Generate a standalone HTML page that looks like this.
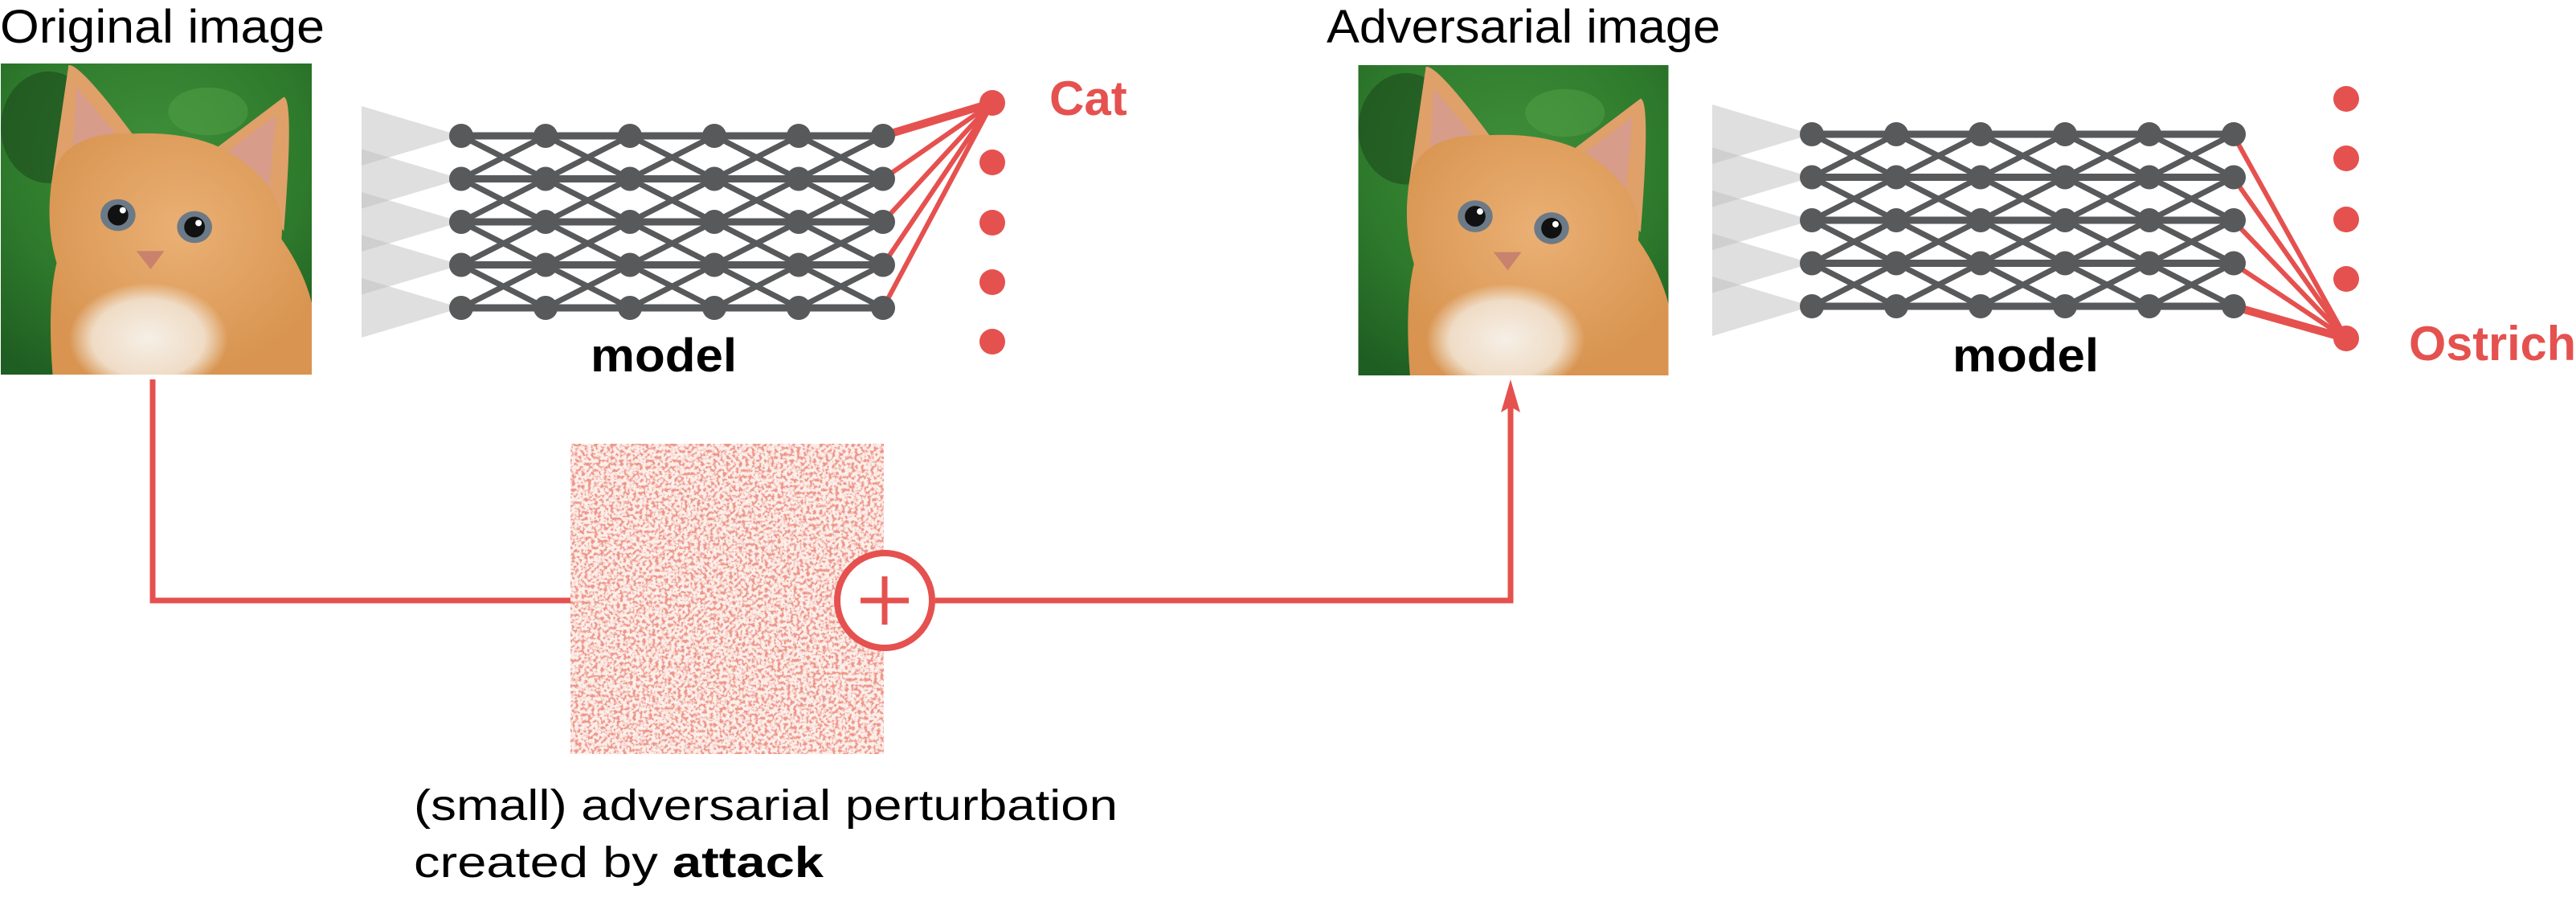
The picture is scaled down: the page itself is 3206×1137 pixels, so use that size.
<!DOCTYPE html>
<html><head><meta charset="utf-8"><style>
html,body{margin:0;padding:0;background:#fff;width:3206px;height:1137px;overflow:hidden}
svg{display:block}
</style></head><body>
<svg width="3206" height="1137" viewBox="0 0 3206 1137" xmlns="http://www.w3.org/2000/svg">
<defs>
<radialGradient id="bg" cx="0.5" cy="0.3" r="0.8">
<stop offset="0" stop-color="#3f8f3a"/><stop offset="0.6" stop-color="#2e7a2c"/><stop offset="1" stop-color="#1f5e22"/></radialGradient>
<radialGradient id="fur" cx="0.5" cy="0.4" r="0.6">
<stop offset="0" stop-color="#eab074"/><stop offset="1" stop-color="#d89450"/></radialGradient>
<radialGradient id="chest" cx="0.5" cy="0.5" r="0.5">
<stop offset="0" stop-color="#f6efe6"/><stop offset="0.7" stop-color="#efdcc6"/><stop offset="1" stop-color="#efdcc6" stop-opacity="0"/></radialGradient>
<symbol id="cat" viewBox="0 0 390 390">
<rect width="390" height="390" fill="url(#bg)"/>
<ellipse cx="60" cy="80" rx="60" ry="70" fill="#173f17" opacity="0.5"/>
<ellipse cx="260" cy="60" rx="50" ry="30" fill="#5aa84a" opacity="0.4"/>
<path d="M65 140 L85 2 Q100 0 170 95 Z" fill="#dfa06a"/>
<path d="M265 110 L355 42 Q368 45 355 210 Z" fill="#dfa06a"/>
<path d="M90 115 L95 30 L150 95 Z" fill="#d79c8a"/>
<path d="M285 110 L345 65 L335 175 Z" fill="#d79c8a"/>
<path d="M65 140 Q80 85 165 88 Q230 85 275 105 Q360 150 352 220 Q380 260 390 300 L390 390 L65 390 Q58 300 70 250 Q55 200 65 140 Z" fill="url(#fur)"/>
<ellipse cx="185" cy="345" rx="100" ry="70" fill="url(#chest)"/>
<ellipse cx="147" cy="190" rx="22" ry="20" fill="#6b7a86"/>
<circle cx="147" cy="190" r="13" fill="#111"/>
<circle cx="153" cy="184" r="4" fill="#fff"/>
<ellipse cx="243" cy="205" rx="22" ry="20" fill="#6b7a86"/>
<circle cx="243" cy="205" r="13" fill="#111"/>
<circle cx="248" cy="200" r="4" fill="#fff"/>
<path d="M170 235 L205 235 L188 258 Z" fill="#c9826e"/>
</symbol>
<filter id="noise" x="0" y="0" width="100%" height="100%">
<feTurbulence type="fractalNoise" baseFrequency="0.25" numOctaves="3" seed="7" result="t"/>
<feColorMatrix in="t" type="matrix" values="0 0 0 0 0.85  0 0 0 0 0.3  0 0 0 0 0.25  0 0 0 -5 2.7"/>
</filter>
<g id="gap" fill="none" stroke="#58595b" stroke-width="7">
<path d="M0 0L105 53.5M0 53.5L105 0M0 53.5L105 107M0 107L105 53.5M0 107L105 160.5M0 160.5L105 107M0 160.5L105 214M0 214L105 160.5"/>
</g>
<g id="net">
<g fill="#c0c0c0" fill-opacity="0.5">
<polygon points="-124,-37 0,0 -124,37"/>
<polygon points="-124,16.5 0,53.5 -124,90.5"/>
<polygon points="-124,70 0,107 -124,144"/>
<polygon points="-124,123.5 0,160.5 -124,197.5"/>
<polygon points="-124,177 0,214 -124,251"/>
</g>
<use href="#gap" x="0"/><use href="#gap" x="105"/><use href="#gap" x="210"/><use href="#gap" x="315"/><use href="#gap" x="420"/>
<g stroke="#58595b" stroke-width="9">
<line x1="0" y1="0" x2="525" y2="0"/><line x1="0" y1="53.5" x2="525" y2="53.5"/><line x1="0" y1="107" x2="525" y2="107"/><line x1="0" y1="160.5" x2="525" y2="160.5"/><line x1="0" y1="214" x2="525" y2="214"/>
</g>
<g fill="#58595b">
<g id="col"><circle cx="0" cy="0" r="15"/><circle cx="0" cy="53.5" r="15"/><circle cx="0" cy="107" r="15"/><circle cx="0" cy="160.5" r="15"/><circle cx="0" cy="214" r="15"/></g>
<use href="#col" x="105"/><use href="#col" x="210"/><use href="#col" x="315"/><use href="#col" x="420"/><use href="#col" x="525"/>
</g>
</g>
</defs>

<text x="0" y="53" font-family="Liberation Sans, sans-serif" font-size="58" textLength="404" lengthAdjust="spacingAndGlyphs">Original image</text>
<text x="1651" y="53" font-family="Liberation Sans, sans-serif" font-size="58" textLength="490" lengthAdjust="spacingAndGlyphs">Adversarial image</text>

<use href="#cat" x="0" y="79" width="389" height="387"/>
<use href="#cat" x="1690" y="81" width="387" height="386"/>

<g stroke="#e5514f" stroke-width="6">
<line x1="1099" y1="169" x2="1235" y2="128" stroke-width="10"/>
<line x1="1099" y1="222.5" x2="1235" y2="128"/>
<line x1="1099" y1="276" x2="1235" y2="128"/>
<line x1="1099" y1="329.5" x2="1235" y2="128"/>
<line x1="1099" y1="383" x2="1235" y2="128"/>
</g>
<use href="#net" x="574" y="169"/>
<g fill="#e5514f">
<circle cx="1235" cy="128" r="16"/><circle cx="1235" cy="202" r="16"/><circle cx="1235" cy="277" r="16"/><circle cx="1235" cy="351" r="16"/><circle cx="1235" cy="425" r="16"/>
</g>
<text x="1306" y="143" font-family="Liberation Sans, sans-serif" font-size="60" font-weight="bold" fill="#e5514f">Cat</text>
<text x="735" y="462" font-family="Liberation Sans, sans-serif" font-size="58" font-weight="bold" textLength="182" lengthAdjust="spacingAndGlyphs">model</text>

<g stroke="#e5514f" stroke-width="6">
<line x1="2779" y1="167" x2="2920" y2="421"/>
<line x1="2779" y1="220.5" x2="2920" y2="421"/>
<line x1="2779" y1="274" x2="2920" y2="421"/>
<line x1="2779" y1="327.5" x2="2920" y2="421"/>
<line x1="2779" y1="381" x2="2920" y2="421" stroke-width="10"/>
</g>
<use href="#net" x="2255" y="167"/>
<g fill="#e5514f">
<circle cx="2920" cy="123" r="16"/><circle cx="2920" cy="197" r="16"/><circle cx="2920" cy="273" r="16"/><circle cx="2920" cy="347" r="16"/><circle cx="2920" cy="421" r="16"/>
</g>
<text x="2998" y="448" font-family="Liberation Sans, sans-serif" font-size="60" font-weight="bold" fill="#e5514f" textLength="208" lengthAdjust="spacingAndGlyphs">Ostrich</text>
<text x="2430" y="462" font-family="Liberation Sans, sans-serif" font-size="58" font-weight="bold" textLength="182" lengthAdjust="spacingAndGlyphs">model</text>

<rect x="710" y="552" width="390" height="386" fill="#fcefea"/>
<rect x="710" y="552" width="390" height="386" filter="url(#noise)"/>

<g stroke="#e5514f" stroke-width="7" fill="none">
<polyline points="190,472 190,747 710,747"/>
<polyline points="1164,747 1880,747 1880,505"/>
<circle cx="1101" cy="747" r="59" fill="#fff" stroke-width="8"/>
<line x1="1071" y1="747" x2="1131" y2="747"/>
<line x1="1101" y1="717" x2="1101" y2="777"/>
</g>
<polygon points="1880,472 1868,513 1880,506 1892,513" fill="#e5514f"/>

<text x="515" y="1020" font-family="Liberation Sans, sans-serif" font-size="54" textLength="876" lengthAdjust="spacingAndGlyphs">(small) adversarial perturbation</text>
<text x="515" y="1091" font-family="Liberation Sans, sans-serif" font-size="54" textLength="510" lengthAdjust="spacingAndGlyphs">created by <tspan font-weight="bold">attack</tspan></text>
</svg>
</body></html>
